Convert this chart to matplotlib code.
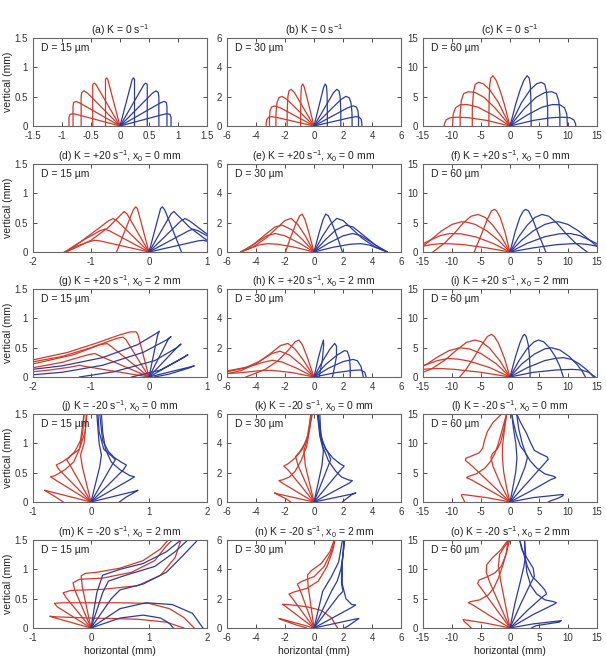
import matplotlib
matplotlib.use("Agg")
import matplotlib.pyplot as plt

plt.rcParams['font.family'] = ['Liberation Sans', 'DejaVu Sans']
plt.rcParams['mathtext.fontset'] = 'custom'
plt.rcParams['mathtext.rm'] = 'Liberation Sans'
plt.rcParams['mathtext.default'] = 'regular'
plt.rcParams['axes.unicode_minus'] = False

RED = '#cf3a2c'
BLUE = '#2d3b9e'

titles = ["(a) K = 0 s$^{-1}$", "(b) K = 0 s$^{-1}$", "(c) K = 0 s$^{-1}$",
          "(d) K = +20 s$^{-1}$, x$_0$ = 0 mm", "(e) K = +20 s$^{-1}$, x$_0$ = 0 mm", "(f) K = +20 s$^{-1}$, x$_0$ = 0 mm",
          "(g) K = +20 s$^{-1}$, x$_0$ = 2 mm", "(h) K = +20 s$^{-1}$, x$_0$ = 2 mm", "(i) K = +20 s$^{-1}$, x$_0$ = 2 mm",
          "(j) K = -20 s$^{-1}$, x$_0$ = 0 mm", "(k) K = -20 s$^{-1}$, x$_0$ = 0 mm", "(l) K = -20 s$^{-1}$, x$_0$ = 0 mm",
          "(m) K = -20 s$^{-1}$, x$_0$ = 2 mm", "(n) K = -20 s$^{-1}$, x$_0$ = 2 mm", "(o) K = -20 s$^{-1}$, x$_0$ = 2 mm"]
diam_labels = ["D = 15 µm", "D = 30 µm", "D = 60 µm"]

xlims = [(-1.5, 1.5), (-6, 6), (-15, 15),
         (-2, 1), (-6, 6), (-15, 15),
         (-2, 1), (-6, 6), (-15, 15),
         (-1, 2), (-6, 6), (-15, 15),
         (-1, 2), (-6, 6), (-15, 15)]
xticks = [[-1.5, -1, -0.5, 0, 0.5, 1, 1.5], [-6, -4, -2, 0, 2, 4, 6], [-15, -10, -5, 0, 5, 10, 15],
          [-2, -1, 0, 1], [-6, -4, -2, 0, 2, 4, 6], [-15, -10, -5, 0, 5, 10, 15],
          [-2, -1, 0, 1], [-6, -4, -2, 0, 2, 4, 6], [-15, -10, -5, 0, 5, 10, 15],
          [-1, 0, 1, 2], [-6, -4, -2, 0, 2, 4, 6], [-15, -10, -5, 0, 5, 10, 15],
          [-1, 0, 1, 2], [-6, -4, -2, 0, 2, 4, 6], [-15, -10, -5, 0, 5, 10, 15]]
ymax = [1.5, 6, 15]
yticks = [[0, 0.5, 1, 1.5], [0, 2, 4, 6], [0, 5, 10, 15]]

# ---- trajectories (x, y) in mm ----
a_red = [
    [(0, 0), (-0.72, 0.19), (-0.81, 0.21), (-0.86, 0.20), (-0.88, 0.15), (-0.88, 0)],
    [(0, 0), (-0.69, 0.39), (-0.76, 0.42), (-0.80, 0.40), (-0.81, 0.32), (-0.81, 0)],
    [(0, 0), (-0.56, 0.56), (-0.62, 0.60), (-0.66, 0.57), (-0.67, 0.50), (-0.67, 0)],
    [(0, 0), (-0.41, 0.70), (-0.44, 0.73), (-0.47, 0.71), (-0.47, 0.62), (-0.47, 0)],
    [(0, 0), (-0.21, 0.79), (-0.23, 0.82), (-0.25, 0.80), (-0.25, 0.70), (-0.25, 0)],
]
a_blue = [
    [(0, 0), (0.72, 0.19), (0.81, 0.21), (0.86, 0.20), (0.88, 0.15), (0.88, 0)],
    [(0, 0), (0.69, 0.39), (0.76, 0.42), (0.80, 0.40), (0.81, 0.32), (0.81, 0)],
    [(0, 0), (0.56, 0.56), (0.62, 0.60), (0.66, 0.57), (0.67, 0.50), (0.67, 0)],
    [(0, 0), (0.41, 0.70), (0.44, 0.73), (0.47, 0.71), (0.47, 0.62), (0.47, 0)],
    [(0, 0), (0.21, 0.79), (0.23, 0.82), (0.25, 0.80), (0.25, 0.70), (0.25, 0)],
]
b_red = [
    [(0, 0), (-2.5, 0.57), (-2.9, 0.64), (-3.12, 0.6), (-3.25, 0.45), (-3.3, 0.2), (-3.3, 0)],
    [(0, 0), (-2.3, 1.23), (-2.7, 1.37), (-2.92, 1.3), (-3.03, 1.05), (-3.07, 0.6), (-3.07, 0)],
    [(0, 0), (-1.85, 1.8), (-2.2, 2.02), (-2.42, 1.93), (-2.55, 1.6), (-2.62, 0.9), (-2.63, 0)],
    [(0, 0), (-1.35, 2.28), (-1.57, 2.5), (-1.72, 2.4), (-1.8, 2.0), (-1.85, 1.0), (-1.85, 0)],
    [(0, 0), (-0.66, 2.62), (-0.77, 2.86), (-0.86, 2.72), (-0.9, 2.2), (-0.92, 1.0), (-0.92, 0)],
]
b_blue = [
    [(0, 0), (2.5, 0.57), (2.9, 0.64), (3.12, 0.6), (3.25, 0.45), (3.3, 0.2), (3.3, 0)],
    [(0, 0), (2.3, 1.23), (2.7, 1.37), (2.92, 1.3), (3.03, 1.05), (3.07, 0.6), (3.07, 0)],
    [(0, 0), (1.85, 1.8), (2.2, 2.02), (2.42, 1.93), (2.55, 1.6), (2.62, 0.9), (2.63, 0)],
    [(0, 0), (1.35, 2.28), (1.57, 2.5), (1.72, 2.4), (1.8, 2.0), (1.85, 1.0), (1.85, 0)],
    [(0, 0), (0.66, 2.62), (0.77, 2.86), (0.86, 2.72), (0.9, 2.2), (0.92, 1.0), (0.92, 0)],
]
c_red = [
    [(0, 0), (-4.0, 0.95), (-7.0, 1.4), (-9.0, 1.5), (-10.3, 1.42), (-11.0, 1.05), (-11.3, 0.4), (-11.35, 0)],
    [(0, 0), (-3.0, 1.9), (-5.5, 3.2), (-7.3, 3.65), (-8.6, 3.62), (-9.4, 3.1), (-9.8, 2.0), (-9.9, 0)],
    [(0, 0), (-2.5, 3.0), (-4.5, 4.9), (-6.0, 5.7), (-7.2, 5.85), (-8.0, 5.5), (-8.4, 4.3), (-8.6, 2.0), (-8.6, 0)],
    [(0, 0), (-2.0, 4.0), (-3.5, 6.2), (-4.6, 7.2), (-5.4, 7.45), (-6.0, 7.1), (-6.3, 5.8), (-6.5, 3.0), (-6.5, 0)],
    [(0, 0), (-1.0, 3.8), (-1.8, 6.3), (-2.4, 7.8), (-2.95, 8.56), (-3.3, 8.2), (-3.5, 7.0), (-3.6, 4.5), (-3.65, 0)],
]
c_blue = [
    [(0, 0), (4.0, 0.95), (7.0, 1.4), (9.0, 1.5), (10.3, 1.42), (11.0, 1.05), (11.3, 0.4), (11.35, 0)],
    [(0, 0), (3.0, 1.9), (5.5, 3.2), (7.3, 3.65), (8.6, 3.62), (9.4, 3.1), (9.8, 2.0), (9.9, 0)],
    [(0, 0), (2.5, 3.0), (4.5, 4.9), (6.0, 5.7), (7.2, 5.85), (8.0, 5.5), (8.4, 4.3), (8.6, 2.0), (8.6, 0)],
    [(0, 0), (2.0, 4.0), (3.5, 6.2), (4.6, 7.2), (5.4, 7.45), (6.0, 7.1), (6.3, 5.8), (6.5, 3.0), (6.5, 0)],
    [(0, 0), (1.0, 3.8), (1.8, 6.3), (2.4, 7.8), (2.95, 8.56), (3.3, 8.2), (3.5, 7.0), (3.6, 4.5), (3.65, 0)],
]
d_red = [
    [(0, 0), (-0.85, 0.19), (-0.94, 0.2), (-1.05, 0.17), (-1.25, 0.1), (-1.46, 0)],
    [(0, 0), (-0.68, 0.36), (-0.76, 0.39), (-0.85, 0.36), (-1.1, 0.22), (-1.3, 0.1), (-1.45, 0)],
    [(0, 0), (-0.55, 0.53), (-0.62, 0.57), (-0.7, 0.53), (-0.9, 0.38), (-1.2, 0.16), (-1.44, 0)],
    [(0, 0), (-0.38, 0.65), (-0.43, 0.69), (-0.5, 0.62), (-0.7, 0.42), (-1.0, 0.2), (-1.25, 0.08), (-1.43, 0)],
    [(0, 0), (-0.2, 0.74), (-0.23, 0.77), (-0.27, 0.72), (-0.4, 0.4), (-0.56, 0)],
]
d_blue = [
    [(0, 0), (0.85, 0.19), (0.94, 0.2), (1.05, 0.17), (1.25, 0.1), (1.46, 0)],
    [(0, 0), (0.68, 0.36), (0.76, 0.39), (0.85, 0.36), (1.1, 0.22), (1.3, 0.1), (1.45, 0)],
    [(0, 0), (0.55, 0.53), (0.62, 0.57), (0.7, 0.53), (0.9, 0.38), (1.2, 0.16), (1.44, 0)],
    [(0, 0), (0.38, 0.65), (0.43, 0.69), (0.5, 0.62), (0.7, 0.42), (1.0, 0.2), (1.25, 0.08), (1.43, 0)],
    [(0, 0), (0.2, 0.74), (0.23, 0.77), (0.27, 0.72), (0.4, 0.4), (0.56, 0)],
]
e_red = [
    [(0, 0), (-1.3, 0.32), (-2.5, 0.53), (-3.2, 0.57), (-3.8, 0.48), (-4.4, 0.25), (-5.05, 0)],
    [(0, 0), (-1.0, 0.6), (-2.0, 1.1), (-2.65, 1.26), (-3.2, 1.13), (-3.9, 0.7), (-4.5, 0.3), (-5.05, 0)],
    [(0, 0), (-0.8, 0.85), (-1.5, 1.5), (-2.19, 1.83), (-2.7, 1.7), (-3.4, 1.15), (-4.2, 0.5), (-5.05, 0)],
    [(0, 0), (-0.6, 1.1), (-1.1, 1.85), (-1.57, 2.29), (-2.0, 2.15), (-2.6, 1.6), (-3.3, 0.95), (-4.2, 0.35), (-5.05, 0)],
    [(0, 0), (-0.35, 1.3), (-0.62, 2.2), (-0.81, 2.59), (-1.0, 2.45), (-1.3, 1.8), (-1.65, 0.9), (-1.96, 0)],
]
e_blue = [
    [(0, 0), (1.3, 0.32), (2.5, 0.53), (3.2, 0.57), (3.8, 0.48), (4.4, 0.25), (5.05, 0)],
    [(0, 0), (1.0, 0.6), (2.0, 1.1), (2.65, 1.26), (3.2, 1.13), (3.9, 0.7), (4.5, 0.3), (5.05, 0)],
    [(0, 0), (0.8, 0.85), (1.5, 1.5), (2.19, 1.83), (2.7, 1.7), (3.4, 1.15), (4.2, 0.5), (5.05, 0)],
    [(0, 0), (0.6, 1.1), (1.1, 1.85), (1.57, 2.29), (2.0, 2.15), (2.6, 1.6), (3.3, 0.95), (4.2, 0.35), (5.05, 0)],
    [(0, 0), (0.35, 1.3), (0.62, 2.2), (0.81, 2.59), (1.0, 2.45), (1.3, 1.8), (1.65, 0.9), (1.96, 0)],
]
f_red = [
    [(0, 0), (-4, 0.7), (-8, 1.25), (-10.5, 1.4), (-11.8, 1.43), (-13.3, 1.3), (-15, 1.0), (-16, 0.8)],
    [(0, 0), (-3, 1.5), (-6, 2.6), (-8.5, 3.1), (-10.4, 3.15), (-12, 2.8), (-13.6, 2.1), (-15, 1.4), (-16, 0.9)],
    [(0, 0), (-2, 2.0), (-4, 3.6), (-6, 4.7), (-7.5, 5.1), (-8.4, 5.15), (-10, 4.7), (-11.8, 3.6), (-13.5, 2.2), (-15, 1.0), (-16, 0.4)],
    [(0, 0), (-1.5, 2.6), (-3, 4.6), (-4.3, 5.9), (-5.5, 6.4), (-6.7, 6.1), (-8, 5.0), (-9.5, 3.3), (-11.2, 1.6), (-12.5, 0.6), (-13.3, 0)],
    [(0, 0), (-0.9, 3.5), (-1.7, 5.9), (-2.3, 7.0), (-2.7, 7.27), (-3.2, 7.0), (-3.9, 5.6), (-4.8, 3.3), (-5.6, 1.4), (-6.17, 0)],
]
f_blue = [
    [(0, 0), (4, 0.7), (8, 1.25), (10.5, 1.4), (11.8, 1.43), (13.3, 1.3), (15, 1.0), (16, 0.8)],
    [(0, 0), (3, 1.5), (6, 2.6), (8.5, 3.1), (10.4, 3.15), (12, 2.8), (13.6, 2.1), (15, 1.4), (16, 0.9)],
    [(0, 0), (2, 2.0), (4, 3.6), (6, 4.7), (7.5, 5.1), (8.4, 5.15), (10, 4.7), (11.8, 3.6), (13.5, 2.2), (15, 1.0), (16, 0.4)],
    [(0, 0), (1.5, 2.6), (3, 4.6), (4.3, 5.9), (5.5, 6.4), (6.7, 6.1), (8, 5.0), (9.5, 3.3), (11.2, 1.6), (12.5, 0.6), (13.3, 0)],
    [(0, 0), (0.9, 3.5), (1.7, 5.9), (2.3, 7.0), (2.7, 7.27), (3.2, 7.0), (3.9, 5.6), (4.8, 3.3), (5.6, 1.4), (6.17, 0)],
]
g_red = [
    [(0, 0), (-1.1, 0.18), (-1.2, 0.2), (-1.35, 0.17), (-1.7, 0.12), (-2.1, 0.08)],
    [(0, 0), (-0.85, 0.36), (-0.93, 0.4), (-1.05, 0.38), (-1.5, 0.25), (-2.1, 0.14)],
    [(0, 0), (-0.65, 0.52), (-0.72, 0.57), (-0.85, 0.55), (-1.3, 0.38), (-2.1, 0.2)],
    [(0, 0), (-0.4, 0.64), (-0.45, 0.68), (-0.55, 0.66), (-1.0, 0.5), (-1.5, 0.35), (-2.1, 0.24)],
    [(0, 0), (-0.19, 0.72), (-0.22, 0.77), (-0.32, 0.77), (-0.5, 0.72), (-0.9, 0.58), (-1.4, 0.42), (-2.1, 0.27)],
]
g_blue = [
    [(0, 0), (0.7, 0.17), (0.78, 0.19), (0.68, 0.15), (0.35, 0.05), (0.1, 0)],
    [(0, 0), (0.6, 0.34), (0.67, 0.38), (0.58, 0.32), (0.2, 0.12), (-0.3, 0)],
    [(0, 0), (0.48, 0.5), (0.55, 0.56), (0.48, 0.5), (0.1, 0.28), (-0.6, 0.09), (-1.2, 0)],
    [(0, 0), (0.33, 0.64), (0.38, 0.69), (0.3, 0.63), (-0.1, 0.42), (-0.8, 0.2), (-1.5, 0.08), (-2.1, 0.03)],
    [(0, 0), (0.15, 0.72), (0.18, 0.78), (0.12, 0.74), (-0.2, 0.55), (-0.8, 0.33), (-1.5, 0.19), (-2.1, 0.12)],
]
h_red = [
    [(0, 0), (-1.5, 0.3), (-2.8, 0.44), (-3.46, 0.46), (-4.2, 0.38), (-5.2, 0.28), (-6.3, 0.22)],
    [(0, 0), (-1.2, 0.6), (-2.2, 1.02), (-2.88, 1.14), (-3.5, 1.0), (-4.5, 0.7), (-6.3, 0.35)],
    [(0, 0), (-0.9, 0.85), (-1.7, 1.5), (-2.35, 1.76), (-2.9, 1.6), (-3.7, 1.1), (-4.8, 0.6), (-6.3, 0.3)],
    [(0, 0), (-0.7, 1.1), (-1.3, 1.9), (-1.8, 2.29), (-2.3, 2.15), (-3.0, 1.6), (-4.0, 0.9), (-5.0, 0.45), (-6.3, 0.15)],
    [(0, 0), (-0.45, 1.3), (-0.8, 2.2), (-1.04, 2.52), (-1.3, 2.4), (-1.8, 1.8), (-2.5, 1.1), (-3.4, 0.5), (-4.7, 0)],
]
h_blue = [
    [(0, 0), (1.5, 0.3), (2.7, 0.45), (3.2, 0.48), (3.5, 0.33), (3.6, 0)],
    [(0, 0), (1.0, 0.6), (2.0, 1.05), (2.7, 1.2), (3.0, 1.1), (3.25, 0.7), (3.4, 0)],
    [(0, 0), (0.8, 0.85), (1.6, 1.5), (2.1, 1.8), (2.3, 1.75), (2.45, 1.3), (2.5, 0.6), (2.5, 0)],
    [(0, 0), (0.6, 1.1), (1.1, 1.9), (1.43, 2.29), (1.55, 2.1), (1.55, 1.4), (1.4, 0.6), (1.27, 0)],
    [(0, 0), (0.3, 1.3), (0.52, 2.1), (0.65, 2.52), (0.67, 2.2), (0.58, 1.2), (0.45, 0.5), (0.35, 0)],
]
i_red = [
    [(0, 0), (-5, 0.8), (-9.5, 1.3), (-11.5, 1.42), (-13, 1.43), (-14.5, 1.35), (-16, 1.2)],
    [(0, 0), (-3.5, 1.6), (-7, 2.7), (-9, 3.05), (-10.7, 3.15), (-12.5, 2.8), (-14.5, 2.1), (-16, 1.7)],
    [(0, 0), (-2.3, 2.2), (-5, 4.0), (-7, 4.8), (-8.66, 4.98), (-10.5, 4.5), (-12.5, 3.4), (-14.5, 2.1), (-16, 1.4)],
    [(0, 0), (-1.7, 2.7), (-3.5, 4.9), (-4.9, 6.0), (-6.06, 6.3), (-7.5, 5.9), (-9.2, 4.6), (-11.2, 2.9), (-13.5, 1.4), (-16, 0.4)],
    [(0, 0), (-1.0, 3.3), (-2.0, 5.8), (-2.7, 6.9), (-3.17, 7.27), (-3.9, 6.9), (-5.0, 5.3), (-6.3, 3.2), (-7.5, 1.4), (-8.66, 0)],
]
i_blue = [
    [(0, 0), (4, 0.8), (8, 1.2), (10.7, 1.3), (12.3, 1.2), (13.6, 0.8), (14.7, 0)],
    [(0, 0), (3, 1.6), (6, 2.8), (8, 3.2), (9.2, 3.3), (10.6, 3.0), (12, 2.2), (13.4, 1.1), (14.4, 0)],
    [(0, 0), (2.0, 2.2), (4.2, 3.9), (6, 4.8), (7.2, 4.98), (8.6, 4.6), (10.2, 3.5), (11.6, 2.1), (12.5, 0.9), (13, 0)],
    [(0, 0), (1.5, 2.7), (3.0, 4.9), (4.1, 5.95), (4.9, 6.3), (5.8, 6.0), (6.8, 5.0), (7.8, 3.5), (8.6, 1.8), (9.2, 0)],
    [(0, 0), (0.9, 3.3), (1.7, 5.8), (2.2, 6.95), (2.48, 7.27), (2.8, 6.9), (3.15, 5.5), (3.35, 3.5), (3.45, 1.5), (3.46, 0)],
]
j_red = [
    [(0, 0), (-0.72, 0.18), (-0.8, 0.2), (-0.75, 0.17), (-0.6, 0.08), (-0.48, 0)],
    [(0, 0), (-0.62, 0.38), (-0.7, 0.43), (-0.62, 0.45), (-0.45, 0.55), (-0.3, 0.68), (-0.2, 0.9), (-0.14, 1.2), (-0.12, 1.5)],
    [(0, 0), (-0.55, 0.55), (-0.6, 0.63), (-0.5, 0.68), (-0.38, 0.76), (-0.28, 0.86), (-0.18, 1.05), (-0.12, 1.5)],
    [(0, 0), (-0.38, 0.66), (-0.42, 0.72), (-0.36, 0.78), (-0.2, 0.9), (-0.1, 1.2), (-0.08, 1.5)],
    [(0, 0), (-0.15, 0.6), (-0.18, 0.8), (-0.12, 1.0), (-0.07, 1.5)],
]
j_blue = [
    [(0, 0), (0.74, 0.18), (0.81, 0.2), (0.76, 0.17), (0.6, 0.08), (0.49, 0)],
    [(0, 0), (0.67, 0.38), (0.75, 0.43), (0.67, 0.45), (0.5, 0.55), (0.35, 0.68), (0.25, 0.9), (0.2, 1.2), (0.18, 1.5)],
    [(0, 0), (0.56, 0.55), (0.61, 0.63), (0.52, 0.68), (0.4, 0.76), (0.3, 0.86), (0.2, 1.05), (0.15, 1.5)],
    [(0, 0), (0.38, 0.66), (0.42, 0.72), (0.36, 0.78), (0.22, 0.9), (0.14, 1.2), (0.12, 1.5)],
    [(0, 0), (0.15, 0.6), (0.18, 0.8), (0.14, 1.0), (0.1, 1.5)],
]
k_red = [
    [(0, 0), (-2.5, 0.55), (-2.72, 0.62), (-2.5, 0.5), (-1.9, 0.2), (-1.6, 0)],
    [(0, 0), (-2.2, 1.3), (-2.42, 1.46), (-2.2, 1.5), (-1.7, 1.7), (-1.3, 2.1), (-0.9, 2.8), (-0.5, 3.8), (-0.3, 5), (-0.23, 6)],
    [(0, 0), (-1.8, 2.2), (-2.08, 2.45), (-1.8, 2.6), (-1.3, 3.0), (-0.8, 3.6), (-0.4, 4.6), (-0.15, 6)],
    [(0, 0), (-1.1, 2.5), (-1.27, 3.1), (-1.0, 3.4), (-0.5, 4.2), (-0.2, 6)],
    [(0, 0), (-0.6, 2.5), (-0.7, 3.5), (-0.4, 4.5), (-0.12, 6)],
]
k_blue = [
    [(0, 0), (2.65, 0.55), (2.88, 0.62), (2.6, 0.5), (2.2, 0.2), (1.96, 0)],
    [(0, 0), (2.45, 1.3), (2.65, 1.46), (2.4, 1.5), (1.9, 1.7), (1.5, 2.1), (1.0, 2.8), (0.6, 3.8), (0.45, 5), (0.4, 6)],
    [(0, 0), (1.85, 2.2), (2.08, 2.45), (1.8, 2.6), (1.3, 3.0), (0.8, 3.6), (0.45, 4.6), (0.3, 6)],
    [(0, 0), (1.0, 2.5), (1.15, 2.9), (0.95, 3.4), (0.5, 4.2), (0.25, 6)],
    [(0, 0), (0.55, 2.5), (0.65, 3.5), (0.4, 4.5), (0.23, 6)],
]
l_red = [
    [(0, 0), (-4, 0.75), (-7.5, 1.2), (-8.3, 1.28), (-8.4, 1.1), (-8.1, 0.6), (-7.8, 0)],
    [(0, 0), (-3.5, 2.0), (-6.5, 3.7), (-7.5, 4.15), (-7.2, 4.35), (-5.8, 4.8), (-4.3, 5.8), (-3.3, 7.0), (-2.6, 8.3), (-2.0, 10), (-1.3, 12.5), (-0.6, 15)],
    [(0, 0), (-3.5, 3.3), (-6.5, 6.1), (-7.7, 7.1), (-7.6, 7.45), (-6.5, 7.9), (-5.3, 8.4), (-4.7, 9.2), (-4.4, 10.5), (-3.9, 12.0), (-2.9, 13.6), (-1.44, 15)],
    [(0, 0), (-1.6, 3.0), (-2.9, 6.0), (-3.3, 7.6), (-3.0, 8.3), (-2.2, 9.0), (-1.6, 10.2), (-1.1, 12.2), (-0.58, 15)],
    [(0, 0), (-0.6, 2.5), (-1.1, 5.2), (-1.3, 7.5), (-1.3, 9.5), (-1.0, 12), (-0.58, 15)],
]
l_blue = [
    [(0, 0), (4, 0.75), (8.3, 1.2), (9.2, 1.28), (9.1, 1.05), (8.2, 0.6), (7.0, 0.2), (6.6, 0)],
    [(0, 0), (3.8, 2.0), (7.0, 3.8), (7.9, 4.15), (7.6, 4.35), (6.0, 4.8), (4.6, 5.8), (3.5, 7.0), (2.7, 8.3), (2.1, 10), (1.5, 12.5), (1.15, 15)],
    [(0, 0), (3, 3.3), (5.8, 6.4), (6.6, 7.3), (6.4, 7.7), (5.3, 8.2), (4.2, 8.8), (3.6, 10), (2.8, 11.8), (1.8, 13.6), (1.15, 15)],
    [(0, 0), (1.4, 3.0), (2.6, 6.0), (3.0, 7.6), (2.6, 8.5), (1.8, 9.5), (1.1, 11.5), (0.6, 13.5), (0.3, 15)],
    [(0, 0), (0.5, 2.5), (1.0, 5.2), (1.2, 7.5), (1.0, 10), (0.6, 12.5), (0.3, 15)],
]
m_red = [
    [(0, 0), (-0.65, 0.18), (-0.71, 0.2), (-0.6, 0.19), (0.0, 0.17), (0.8, 0.15), (1.3, 0.1), (1.6, 0)],
    [(0, 0), (-0.58, 0.36), (-0.63, 0.42), (-0.5, 0.43), (0.5, 0.43), (1.0, 0.42), (1.35, 0.33), (1.6, 0.18), (1.78, 0)],
    [(0, 0), (-0.43, 0.52), (-0.48, 0.6), (-0.35, 0.64), (0.2, 0.66), (0.8, 0.72), (1.2, 0.9), (1.45, 1.2), (1.55, 1.5)],
    [(0, 0), (-0.28, 0.65), (-0.31, 0.77), (-0.2, 0.83), (0.2, 0.85), (0.7, 0.95), (1.1, 1.15), (1.3, 1.4), (1.4, 1.5)],
    [(0, 0), (-0.15, 0.7), (-0.17, 0.89), (-0.1, 0.93), (0.1, 0.95), (0.5, 1.02), (0.9, 1.15), (1.2, 1.35), (1.33, 1.5)],
]
m_blue = [
    [(0, 0), (0.5, 0.17), (0.9, 0.22), (1.2, 0.17), (1.35, 0.08), (1.42, 0)],
    [(0, 0), (0.5, 0.33), (0.95, 0.43), (1.4, 0.4), (1.75, 0.25), (1.93, 0)],
    [(0, 0), (0.35, 0.5), (0.5, 0.65), (0.9, 0.75), (1.3, 0.95), (1.6, 1.25), (1.84, 1.5)],
    [(0, 0), (0.2, 0.6), (0.3, 0.8), (0.6, 0.9), (1.1, 1.05), (1.45, 1.3), (1.67, 1.5)],
    [(0, 0), (0.1, 0.6), (0.2, 0.9), (0.5, 1.0), (0.9, 1.1), (1.3, 1.3), (1.55, 1.5)],
]
n_red = [
    [(0, 0), (-2.2, 0.6), (-2.42, 0.65), (-2.2, 0.55), (-1.2, 0.2), (-0.5, 0)],
    [(0, 0), (-2.0, 1.5), (-2.19, 1.62), (-1.8, 1.6), (-0.5, 1.45), (0.5, 1.2), (1.2, 0.7), (1.62, 0)],
    [(0, 0), (-1.55, 2.1), (-1.73, 2.31), (-1.4, 2.45), (-0.5, 2.7), (0.3, 3.2), (0.9, 4.2), (1.3, 5.3), (1.45, 6)],
    [(0, 0), (-1.0, 2.7), (-1.15, 3.0), (-0.8, 3.2), (0.0, 3.5), (0.7, 4.2), (1.2, 5.2), (1.4, 6)],
    [(0, 0), (-0.4, 2.8), (-0.45, 3.6), (-0.2, 3.9), (0.5, 4.4), (1.1, 5.2), (1.39, 6)],
]
n_blue = [
    [(0, 0), (2.8, 0.6), (3.1, 0.65), (2.8, 0.45), (2.3, 0.1), (2.1, 0)],
    [(0, 0), (2.6, 1.4), (2.88, 1.57), (2.6, 1.6), (2.2, 2.0), (1.95, 3.0), (1.95, 4.5), (2.1, 6)],
    [(0, 0), (1.7, 2.2), (2.0, 2.5), (1.9, 3.0), (1.9, 4.0), (2.0, 5.0), (2.12, 6)],
    [(0, 0), (1.2, 2.5), (1.6, 3.2), (1.85, 4.0), (2.0, 5.0), (2.05, 6)],
    [(0, 0), (0.6, 2.5), (1.2, 3.5), (1.7, 4.5), (1.96, 6)],
]
o_red = [
    [(0, 0), (-4, 0.8), (-7.5, 1.35), (-8.1, 1.44), (-7.9, 1.1), (-7.2, 0.5), (-6.7, 0)],
    [(0, 0), (-3.5, 2.1), (-6.5, 4.0), (-7.2, 4.3), (-6.8, 4.5), (-5.2, 4.8), (-3.8, 5.6), (-2.8, 6.8), (-2.0, 8.5), (-1.2, 10.8), (-0.6, 13), (-0.35, 15)],
    [(0, 0), (-2.8, 3.8), (-5.0, 6.8), (-5.6, 7.6), (-5.3, 8.2), (-4.0, 8.7), (-2.6, 9.4), (-1.5, 10.5), (-0.7, 12.5), (-0.06, 15)],
    [(0, 0), (-1.8, 4.0), (-3.5, 7.8), (-4.1, 9.5), (-4.0, 10.8), (-3.0, 12), (-1.6, 13.3), (-0.35, 15)],
    [(0, 0), (-0.8, 4), (-1.6, 8), (-2.0, 10.5), (-1.8, 12.5), (-1.0, 13.8), (-0.06, 15)],
]
o_blue = [
    [(0, 0), (4, 0.7), (8.4, 1.2), (8.85, 1.27), (8.5, 1.0), (6.5, 0.7), (4.5, 0.4), (3.7, 0)],
    [(0, 0), (4, 2.3), (7.5, 4.0), (8.0, 4.3), (7.5, 4.5), (6.0, 4.8), (4.6, 5.8), (3.6, 7.2), (2.9, 9.5), (2.6, 12.5), (2.5, 15)],
    [(0, 0), (3, 3.0), (5.6, 5.3), (6.3, 5.8), (6.0, 6.5), (5.0, 7.6), (3.8, 8.8), (3.0, 10.5), (2.3, 12.8), (1.67, 15)],
    [(0, 0), (1.8, 4), (3.5, 7.5), (4.2, 8.8), (4.0, 10.2), (3.0, 11.8), (2.0, 13.5), (1.67, 15)],
    [(0, 0), (0.8, 4), (1.8, 8), (2.4, 10.5), (2.7, 12.5), (2.5, 15)],
]

red_sets = [a_red, b_red, c_red, d_red, e_red, f_red, g_red, h_red, i_red,
            j_red, k_red, l_red, m_red, n_red, o_red]
blue_sets = [a_blue, b_blue, c_blue, d_blue, e_blue, f_blue, g_blue, h_blue, i_blue,
             j_blue, k_blue, l_blue, m_blue, n_blue, o_blue]

W, H = 606, 657
fig = plt.figure(figsize=(W / 100, H / 100), dpi=100)
col_left = [33, 227, 423]
row_bottom = [126, 252, 377, 502, 628]
ax_w, ax_h = 174, 88

for idx in range(15):
    r, c = divmod(idx, 3)
    ax = fig.add_axes([col_left[c] / W, 1 - row_bottom[r] / H, ax_w / W, ax_h / H])
    for curve in red_sets[idx]:
        xs = [p[0] for p in curve]
        ys = [p[1] for p in curve]
        ax.plot(xs, ys, color=RED, lw=0.9)
    for curve in blue_sets[idx]:
        xs = [p[0] for p in curve]
        ys = [p[1] for p in curve]
        ax.plot(xs, ys, color=BLUE, lw=0.9)
    ax.set_xlim(*xlims[idx])
    ax.set_ylim(0, ymax[c])
    ax.set_xticks(xticks[idx])
    ax.set_xticklabels([f"{t:g}" for t in xticks[idx]])
    ax.set_yticks(yticks[c])
    ax.set_yticklabels([f"{t:g}" for t in yticks[c]])
    ax.tick_params(direction='in', length=3, width=0.6, top=True, right=True,
                   labelsize=7, colors='#333333')
    ax.tick_params(axis='x', pad=3.5)
    ax.tick_params(axis='y', pad=3.5)
    for s in ax.spines.values():
        s.set_color('#666666')
        s.set_linewidth(0.8)
    ax.set_title(titles[idx], fontsize=7.5, pad=3, color='#222222')
    ax.text(0.045, 0.94, diam_labels[c], transform=ax.transAxes, ha='left', va='top',
            fontsize=7.5, color='#222222')
    if c == 0:
        ax.set_ylabel("vertical (mm)", fontsize=7.5, color='#222222', labelpad=1.5)
    if r == 4:
        ax.set_xlabel("horizontal (mm)", fontsize=7.5, color='#222222', labelpad=2)

fig.savefig("out.png", dpi=100)
